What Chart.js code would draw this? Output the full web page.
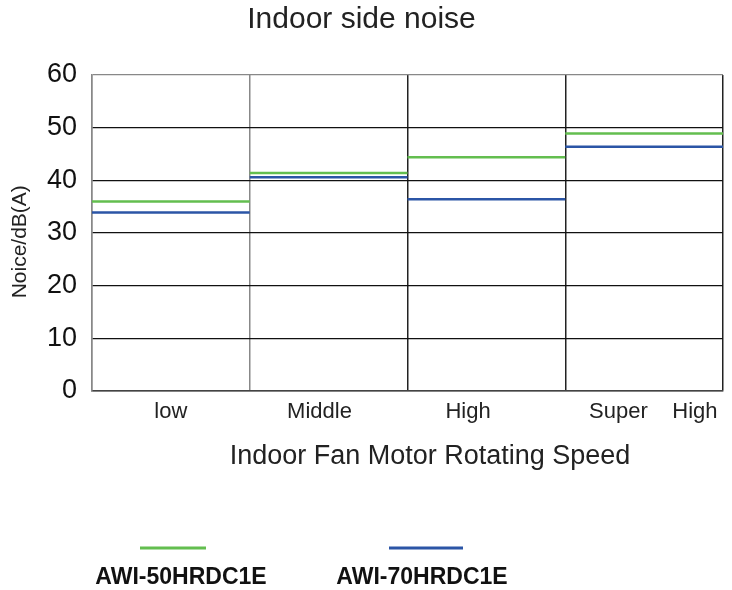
<!DOCTYPE html>
<html>
<head>
<meta charset="utf-8">
<script src="https://cdn.jsdelivr.net/npm/chart.js@4"></script>
<style>
  html, body { margin: 0; padding: 0; background: #fff; }
  #wrap { width: 732px; height: 590px; }
</style>
</head>
<body>
<div id="wrap"><canvas id="chart" width="732" height="590"></canvas></div>
<script>
// Data
const speeds = ['low', 'Middle', 'High', 'Super    High'];
const awi50 = [36.0, 41.4, 44.4, 48.9];
const awi70 = [33.9, 40.6, 36.4, 46.4];
const yTicks = [0, 10, 20, 30, 40, 50, 60];

const FONT = "'Liberation Sans', Arial, Helvetica, sans-serif";
const GREEN = '#63be4f';
const BLUE = '#2b55a6';

// each value is drawn as a flat line across its whole category
function halfCategory(ctx) {
    const x = ctx.chart.scales.x;
    if (!x || !x.width) return 70;
    return x.width / speeds.length / 2;
}

// the original labels sit a little off centre; nudge them with spaces
const labelNudge = ['', '   ', '      ', ''];
const labelLead = ['', '', '', '   '];

// legend below the axis title: line on top, bold name underneath
const bottomLegend = {
    id: 'bottomLegend',
    afterDraw(chart) {
        const ctx = chart.ctx;
        const items = [
            { line: 173, lineW: 66, text: 181 },
            { line: 426, lineW: 74, text: 422 }
        ];
        chart.data.datasets.forEach(function(ds, i) {
            const it = items[i];
            ctx.save();
            ctx.strokeStyle = ds.borderColor;
            ctx.lineWidth = 3;
            ctx.beginPath();
            ctx.moveTo(it.line - it.lineW / 2, 548);
            ctx.lineTo(it.line + it.lineW / 2, 548);
            ctx.stroke();
            ctx.fillStyle = '#111';
            ctx.font = 'bold 23px ' + FONT;
            ctx.textAlign = 'center';
            ctx.textBaseline = 'middle';
            ctx.fillText(ds.label, it.text, 578);
            ctx.restore();
        });
    }
};

new Chart(document.getElementById('chart'), {
    type: 'line',
    data: {
        labels: speeds,
        datasets: [
            {
                label: 'AWI-50HRDC1E',
                data: awi50,
                borderColor: GREEN,
                backgroundColor: GREEN,
                showLine: false,
                pointStyle: 'line',
                pointRadius: halfCategory,
                pointBorderWidth: 2.5,
                pointBorderColor: GREEN
            },
            {
                label: 'AWI-70HRDC1E',
                data: awi70,
                borderColor: BLUE,
                backgroundColor: BLUE,
                showLine: false,
                pointStyle: 'line',
                pointRadius: halfCategory,
                pointBorderWidth: 2.5,
                pointBorderColor: BLUE
            }
        ]
    },
    options: {
        responsive: false,
        animation: false,
        events: [],
        layout: {
            autoPadding: false, // the wide flat points would otherwise push the plot in
            padding: { left: 0, right: 9, top: 0, bottom: 109 }
        },
        plugins: {
            legend: { display: false },
            tooltip: { enabled: false },
            title: {
                display: true,
                text: 'Indoor side noise',
                color: '#222',
                font: { family: FONT, size: 30, weight: 'normal' },
                padding: { top: 2, bottom: 37 }
            }
        },
        scales: {
            x: {
                type: 'category',
                offset: true,
                afterFit(scale) {
                    scale.height = 90;
                    scale.paddingLeft = 0;
                    scale.paddingRight = 0;
                },
                grid: {
                    offset: true,
                    drawTicks: false,
                    lineWidth: 1.5,
                    color: function(c) {
                        return ['#888', '#888', '#222', '#222', '#888'][c.index] || '#222';
                    }
                },
                border: { color: '#444', width: 1.5 },
                ticks: {
                    color: '#222',
                    padding: 8,
                    maxRotation: 0,
                    autoSkip: false,
                    font: { family: FONT, size: 22 },
                    callback: function(v, i) {
                        return labelLead[i] + speeds[i] + labelNudge[i];
                    }
                },
                title: {
                    display: true,
                    text: '      Indoor Fan Motor Rotating Speed',
                    color: '#222',
                    font: { family: FONT, size: 27 },
                    padding: { top: 0, bottom: 8 }
                }
            },
            y: {
                min: 0,
                max: 60,
                afterFit(scale) { scale.width = 92; },
                afterBuildTicks(scale) {
                    scale.ticks = yTicks.map(function(v) { return { value: v }; });
                },
                grid: {
                    drawTicks: false,
                    lineWidth: 1.3,
                    color: function(c) {
                        return c.tick && c.tick.value === 60 ? '#888' : '#111';
                    }
                },
                border: { color: '#888', width: 1.5 },
                ticks: {
                    color: '#111',
                    padding: 15,
                    font: { family: FONT, size: 27 }
                },
                title: {
                    display: true,
                    text: 'Noice/dB(A)   ',
                    color: '#222',
                    font: { family: FONT, size: 21 },
                    padding: { top: 8, bottom: 0 }
                }
            }
        }
    },
    plugins: [bottomLegend]
});
</script>
</body>
</html>
